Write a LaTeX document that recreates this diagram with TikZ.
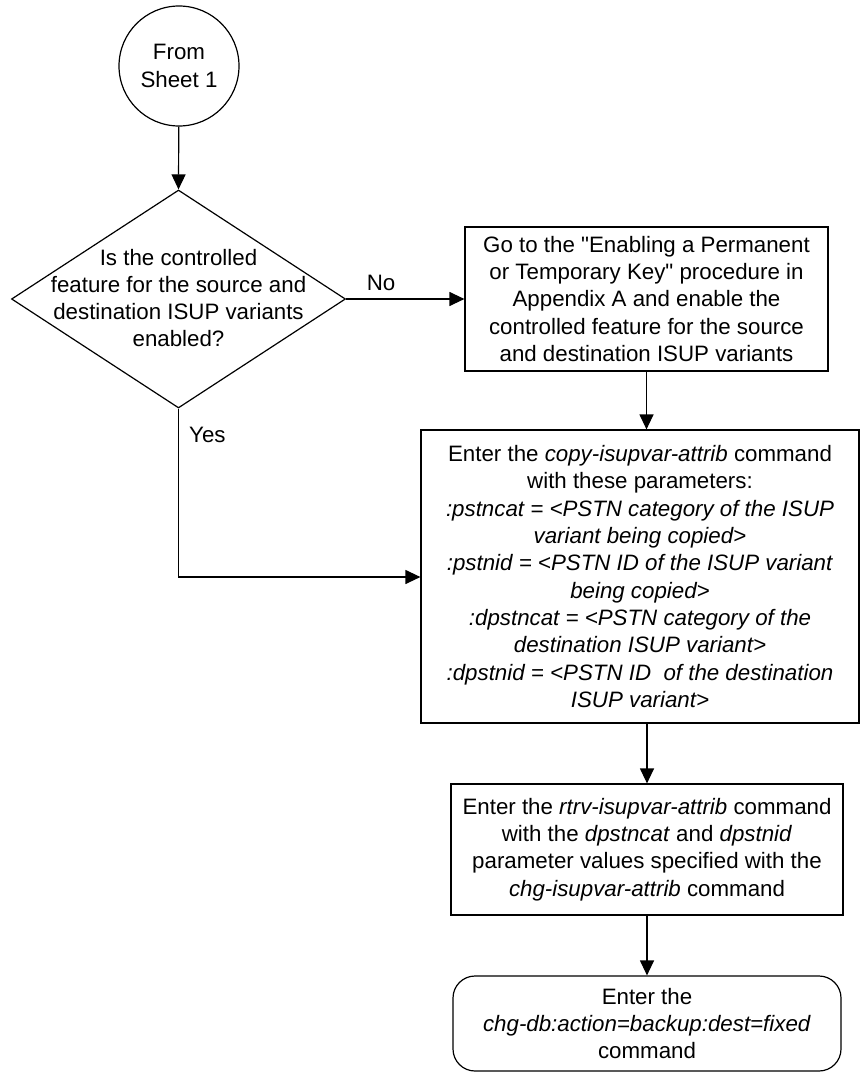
\documentclass[tikz,border=0pt]{standalone}
\usepackage{fontspec}
\setmainfont{Liberation Sans}
\newfontfamily\arialfont{Liberation Sans}
\usetikzlibrary{shapes.geometric,arrows.meta}
\begin{document}
\begin{tikzpicture}[x=1pt,y=-1pt,
  every node/.style={font=\arialfont\fontsize{22.3}{27.3}\selectfont, align=center, inner sep=0pt},
  boxstyle/.style={draw, line width=1.2pt},
  conn/.style={line width=1.2pt, -{Triangle[length=15pt,width=14pt]}},
  plain/.style={line width=1.2pt}]
\useasboundingbox (0,0) rectangle (861,1073);
% start circle
\node[boxstyle, circle, minimum size=120pt] (start) at (179,66) {From\\Sheet 1};
% decision
\node[boxstyle, diamond, minimum width=334pt, minimum height=218pt] (dec) at (178.5,299) {};
\node (dectext) at (178.5,298) {Is the controlled\\feature for the source and\\destination ISUP variants\\enabled?};
% box1
\node[boxstyle, minimum width=363pt, minimum height=144pt] (box1) at (646.5,299) {Go to the "Enabling a Permanent\\or Temporary Key" procedure in\\Appendix A and enable the\\controlled feature for the source\\and destination ISUP variants};
% box2
\node[boxstyle, minimum width=438pt, minimum height=293pt] (box2) at (640,576.5) {Enter the \textit{copy-isupvar-attrib} command\\with these parameters:\\\textit{:pstncat = <PSTN category of the ISUP}\\\textit{variant being copied>}\\\textit{:pstnid = <PSTN ID of the ISUP variant}\\\textit{being copied>}\\\textit{:dpstncat = <PSTN category of the}\\\textit{destination ISUP variant>}\\\textit{:dpstnid = <PSTN ID\ \ of the destination}\\\textit{ISUP variant>}};
% box3
\node[boxstyle, minimum width=392pt, minimum height=131pt] (box3) at (647,849.5) {Enter the \textit{rtrv-isupvar-attrib} command\\with the \textit{dpstncat} and \textit{dpstnid}\\parameter values specified with the\\\textit{chg-isupvar-attrib} command};
% terminal
\node[boxstyle, rounded corners=22pt, minimum width=388pt, minimum height=95pt] (term) at (647,1023.5) {Enter the\\\textit{chg-db:action=backup:dest=fixed}\\command};
% connectors
\draw[conn] (start) -- (dec.north);
\draw[conn] (dec.east) -- (box1.west);
\node (nolabel) at (381,283) {No};
\draw[conn] (box1.south) -- (box1.south |- box2.north);
\coordinate (yesturn) at (dec.south |- 0,577);
\draw[conn] (dec.south) -- (yesturn) -- (yesturn -| box2.west);
\node[anchor=west] (yeslabel) at (189,435) {Yes};
\draw[conn] (box2.south -| box3.north) -- (box3.north);
\draw[conn] (box3.south) -- (term.north);
\end{tikzpicture}
\end{document}
